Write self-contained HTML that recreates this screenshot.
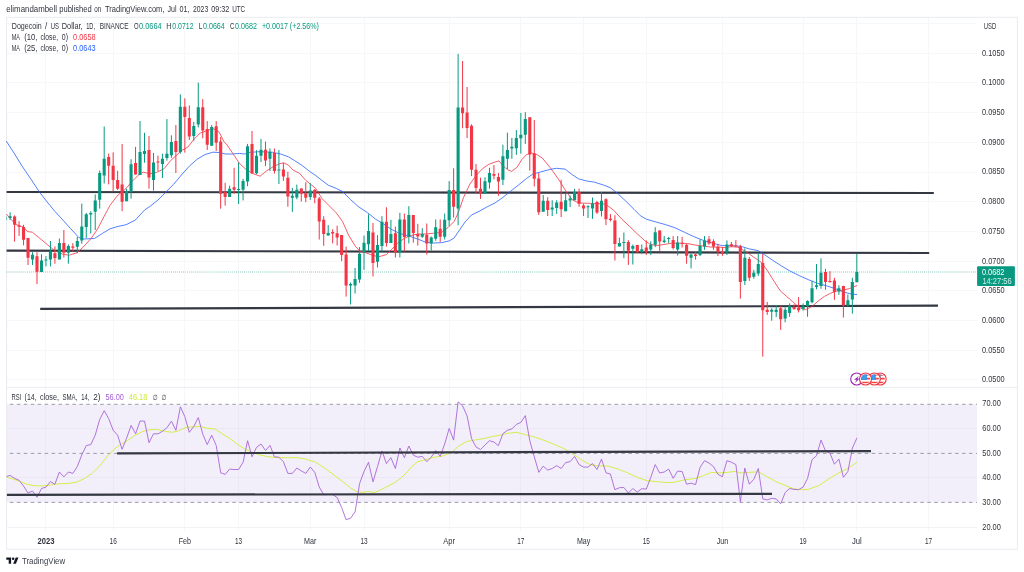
<!DOCTYPE html>
<html lang="en"><head><meta charset="utf-8"><title>Dogecoin / US Dollar chart</title>
<style>html,body{margin:0;padding:0;background:#fff}body{width:1024px;height:572px;overflow:hidden}svg{display:block}text{font-family:"Liberation Sans", sans-serif}</style></head><body>
<svg width="1024" height="572" viewBox="0 0 1024 572">
<rect width="1024" height="572" fill="#fff"/>
<text x="6.2" y="11.7" font-size="8.30" fill="#30333d" textLength="50.8" lengthAdjust="spacingAndGlyphs">elimandambell</text>
<text x="59.2" y="11.7" font-size="8.30" fill="#30333d" textLength="32.5" lengthAdjust="spacingAndGlyphs">published</text>
<text x="94.2" y="11.7" font-size="8.30" fill="#30333d" textLength="7.0" lengthAdjust="spacingAndGlyphs">on</text>
<text x="105.0" y="11.7" font-size="8.30" fill="#30333d" textLength="59.5" lengthAdjust="spacingAndGlyphs">TradingView.com,</text>
<text x="167.5" y="11.7" font-size="8.30" fill="#30333d" textLength="9.0" lengthAdjust="spacingAndGlyphs">Jul</text>
<text x="179.5" y="11.7" font-size="8.30" fill="#30333d" textLength="10.0" lengthAdjust="spacingAndGlyphs">01,</text>
<text x="193.0" y="11.7" font-size="8.30" fill="#30333d" textLength="15.2" lengthAdjust="spacingAndGlyphs">2023</text>
<text x="211.2" y="11.7" font-size="8.30" fill="#30333d" textLength="18.0" lengthAdjust="spacingAndGlyphs">09:32</text>
<text x="232.2" y="11.7" font-size="8.30" fill="#30333d" textLength="13.0" lengthAdjust="spacingAndGlyphs">UTC</text>
<rect x="6.6" y="404.3" width="970.4" height="98.1" fill="#f2eefa"/>
<path d="M6.6 23.5H977.0M6.6 53.5H977.0M6.6 82.5H977.0M6.6 112.5H977.0M6.6 142.5H977.0M6.6 172.5H977.0M6.6 201.5H977.0M6.6 231.5H977.0M6.6 261.5H977.0M6.6 290.5H977.0M6.6 320.5H977.0M6.6 350.5H977.0M6.6 379.5H977.0M6.6 428.5H977.0M6.6 477.5H977.0M45.5 17.3V531.6M113.5 17.3V531.6M184.5 17.3V531.6M238.5 17.3V531.6M310.5 17.3V531.6M364.5 17.3V531.6M449.5 17.3V531.6M520.5 17.3V531.6M583.5 17.3V531.6M646.5 17.3V531.6M722.5 17.3V531.6M803.5 17.3V531.6M856.5 17.3V531.6M928.5 17.3V531.6" stroke="#f6f7f9" stroke-width="1" fill="none"/>
<path d="M6.6 428.5H977.0M6.6 477.5H977.0M45.5 404.3V502.4M113.5 404.3V502.4M184.5 404.3V502.4M238.5 404.3V502.4M310.5 404.3V502.4M364.5 404.3V502.4M449.5 404.3V502.4M520.5 404.3V502.4M583.5 404.3V502.4M646.5 404.3V502.4M722.5 404.3V502.4M803.5 404.3V502.4M856.5 404.3V502.4M928.5 404.3V502.4" stroke="#ebe7f4" stroke-width="1" fill="none"/>
<rect x="6.6" y="17.3" width="1010.8" height="532.0" fill="none" stroke="#e8ebf1" stroke-width="1"/>
<path d="M6.6 387.4H1017.4" stroke="#e8ebf1" stroke-width="1" fill="none"/>
<path d="M6.6 527.5H977.0" stroke="#f1f2f6" stroke-width="1" fill="none"/>
<path d="M6.6 404.3H977.0" stroke="#9b9da8" stroke-width="1" stroke-dasharray="3.5 3.45" stroke-dashoffset="3.65" fill="none"/>
<path d="M6.6 453.4H977.0" stroke="#9b9da8" stroke-width="1" stroke-dasharray="3.5 3.45" stroke-dashoffset="3.65" fill="none"/>
<path d="M6.6 502.4H977.0" stroke="#9b9da8" stroke-width="1" stroke-dasharray="3.5 3.45" stroke-dashoffset="3.65" fill="none"/>
<path d="M6.6 272H977.0" stroke="#089981" stroke-width="1" stroke-dasharray="0.8 1.23" stroke-opacity="0.6" fill="none"/>
<path d="M6.6 192.0L933.8 193.0" stroke="#343843" stroke-width="2.2" fill="none"/>
<path d="M6.6 250.6L929.2 253.0" stroke="#343843" stroke-width="2.2" fill="none"/>
<path d="M40.2 308.9L938.0 305.6" stroke="#343843" stroke-width="2.2" fill="none"/>
<path d="M6.5 141.4L14.0 153.0L22.0 166.0L31.5 180.0L39.3 191.8L47.2 202.0L55.0 211.5L63.0 220.1L70.8 228.8L78.7 237.4L83.4 239.0L94.4 238.5L102.3 233.5L110.0 228.8L118.0 226.4L125.9 224.8L135.3 220.1L144.7 209.9L150.0 206.4L157.9 200.1L165.7 192.2L173.6 184.3L181.5 174.9L189.3 166.2L197.2 159.2L205.1 154.5L212.9 152.2L219.2 152.5L225.5 154.0L231.8 154.0L239.7 153.4L244.4 154.0L250.7 152.3L260.1 151.7L272.7 152.3L280.6 154.0L288.4 156.8L294.7 160.7L301.0 164.7L310.0 171.7L315.0 175.0L322.0 180.5L328.3 185.2L336.2 188.4L342.5 191.5L350.3 199.4L358.2 206.5L367.7 212.8L375.5 219.1L383.4 223.8L391.3 229.3L399.1 233.2L410.1 236.4L418.0 239.2L425.9 242.3L433.7 243.0L441.6 242.7L449.5 240.8L454.2 237.9L460.0 229.3L465.0 222.0L471.5 215.0L479.3 211.2L487.2 206.8L495.1 202.9L502.9 197.4L510.8 191.1L518.7 184.8L526.5 178.5L532.8 174.1L540.7 171.9L550.1 169.4L556.4 168.3L565.1 169.1L572.2 174.6L578.5 178.8L586.3 180.9L594.2 182.1L603.4 185.0L610.5 187.8L618.3 194.1L626.2 201.5L634.1 209.4L640.3 215.7L646.6 219.3L656.1 222.0L665.5 224.6L675.0 227.8L684.4 232.2L693.8 236.6L703.3 240.4L712.7 243.2L722.2 245.6L731.6 245.6L741.0 246.3L748.9 248.8L758.3 250.7L764.6 254.7L772.5 260.2L780.3 265.2L789.8 270.9L799.2 275.6L808.7 279.8L818.1 283.5L827.5 286.1L837.0 289.3L844.9 292.4L851.1 294.0L856.7 294.5" stroke="#2962ff" stroke-width="1.00" fill="none" stroke-linejoin="round" stroke-linecap="round" stroke-opacity="0.8"/>
<path d="M6.6 214.3L11.0 219.3L15.7 224.4L23.6 227.2L27.5 231.6L32.3 232.2L39.3 237.9L47.2 244.5L55.0 250.8L63.0 254.3L69.2 255.2L77.1 252.7L83.4 246.9L91.3 238.2L97.5 229.1L103.8 217.0L110.1 205.2L118.0 195.0L125.9 188.7L132.2 181.2L138.5 175.2L143.2 172.1L149.5 173.7L156.3 172.5L164.2 168.6L170.5 160.7L176.0 155.7L181.5 150.7L187.8 147.1L194.1 139.2L200.3 132.9L205.1 131.4L212.9 128.5L219.2 132.1L223.9 141.6L227.1 145.0L233.4 154.4L239.7 163.6L246.0 169.4L252.3 173.3L260.1 176.2L266.4 171.0L272.7 167.0L279.0 163.9L283.7 162.8L288.4 165.1L293.2 170.2L299.5 173.3L305.8 180.4L315.7 188.4L322.0 198.6L328.3 204.9L336.2 212.8L342.5 221.4L348.8 235.6L355.1 245.8L359.8 251.3L366.1 252.9L372.4 255.2L378.7 256.8L386.5 254.5L391.3 249.7L397.5 243.4L403.8 238.7L410.1 235.6L418.0 234.0L425.9 234.0L433.7 233.2L441.6 232.4L447.9 227.7L454.2 221.4L458.1 213.1L463.6 197.4L469.9 184.0L476.2 175.3L482.5 168.7L488.8 164.3L495.1 162.0L499.0 160.9L502.9 165.6L507.7 169.8L511.6 171.4L517.1 167.2L521.8 159.6L526.5 154.6L531.3 153.0L536.0 154.1L542.3 158.0L550.1 167.5L558.0 178.5L565.9 191.1L572.2 199.7L578.5 202.9L584.7 203.2L592.6 203.4L597.9 203.6L605.7 204.2L613.6 210.2L621.5 218.8L629.3 226.2L637.2 233.8L645.1 240.9L649.8 244.0L656.1 245.6L664.0 244.5L671.8 243.2L679.7 243.2L687.5 243.5L695.4 245.1L703.3 246.0L711.1 247.1L719.0 247.1L725.3 247.6L731.6 246.7L737.9 247.2L745.7 251.5L753.6 257.0L761.5 262.5L767.8 271.2L774.1 281.4L780.3 290.9L786.6 296.4L792.9 301.9L799.2 307.4L805.5 309.7L811.8 306.6L818.1 301.1L824.4 296.4L830.7 293.2L837.0 290.9L843.3 290.1L849.6 288.5L856.7 285.7" stroke="#f23645" stroke-width="1.00" fill="none" stroke-linejoin="round" stroke-linecap="round" stroke-opacity="0.8"/>
<path d="M10.11 212.3V220.0M32.51 252.2V265.0M41.47 254.2V272.1M45.95 256.2V266.4M50.43 241.0V266.4M59.39 238.5V259.4M68.35 244.4V263.7M77.31 237.0V253.2M81.79 203.6V243.7M86.27 213.0V237.9M90.75 211.2V233.5M95.23 194.5V230.0M99.71 170.5V208.6M104.19 126.5V183.4M126.59 188.7V201.2M131.07 159.2V198.6M140.03 121.0V174.9M144.51 132.8V162.7M153.47 152.9V190.6M162.43 153.7V178.0M166.91 119.1V160.7M171.39 135.3V157.9M180.35 94.4V153.7M193.79 121.9V140.8M198.27 82.6V127.4M211.71 125.1V145.8M229.63 185.6V196.9M238.59 162.6V204.0M243.07 178.8V200.4M247.55 143.9V186.2M256.51 150.2V174.1M260.99 138.9V162.0M269.95 148.4V171.0M278.91 150.0V184.0M292.35 187.8V211.9M296.83 184.6V199.3M310.27 183.2V199.9M328.19 225.0V235.6M350.59 282.5V304.5M355.07 268.0V293.5M359.55 247.1V282.8M364.03 235.6V269.9M368.51 214.3V251.0M377.47 235.1V267.5M381.95 216.2V251.4M390.91 219.8V243.0M399.87 212.8V257.5M408.83 206.2V243.4M422.27 228.2V237.9M431.23 236.4V250.6M435.71 219.4V240.8M444.67 213.5V239.5M449.15 181.1V226.1M458.11 53.9V225.3M484.99 177.2V193.9M489.47 167.8V188.7M502.91 144.7V185.1M507.39 132.6V169.0M511.87 137.9V158.8M516.35 130.1V154.9M520.83 112.9V153.6M525.31 112.1V143.9M543.23 195.0V211.8M552.19 200.2V216.0M556.67 200.2V213.9M565.63 193.4V211.2M570.11 195.5V207.1M574.59 188.7V200.2M588.03 205.2V218.0M592.51 197.5V218.8M601.47 192.1V216.5M619.39 237.7V246.4M623.87 232.5V258.2M632.83 244.5V264.5M641.79 244.5V254.2M650.75 241.3V255.0M655.23 227.2V247.1M664.19 236.1V243.2M668.67 236.9V242.9M677.63 236.1V255.5M691.07 254.2V268.4M700.03 239.3V256.1M704.51 236.1V249.8M726.91 240.4V255.0M744.83 248.4V285.0M753.79 269.9V278.7M758.27 253.1V275.9M771.71 308.2V320.7M776.19 305.0V317.1M785.15 307.4V322.3M789.63 303.4V316.8M803.07 303.4V310.8M807.55 300.3V316.8M812.03 280.9V303.4M816.51 264.1V289.3M820.99 258.3V288.8M838.91 285.3V294.8M847.87 294.5V306.6M852.35 277.8V313.7M856.83 253.9V282.2" stroke="#089981" stroke-width="1" fill="none"/>
<path d="M14.59 215.4V241.7M19.07 221.2V235.9M23.55 224.8V245.3M28.03 237.9V265.0M36.99 252.2V284.1M54.91 246.4V263.7M63.87 230.0V257.6M72.83 243.1V251.6M108.67 153.5V184.4M113.15 152.4V191.3M117.63 170.8V190.0M122.11 144.1V211.2M135.55 146.9V174.5M148.99 135.9V188.7M157.95 155.7V171.0M175.87 125.1V173.0M184.83 98.3V152.6M189.31 105.4V140.0M202.75 99.1V138.4M207.23 121.1V150.0M216.19 121.1V151.0M220.67 136.9V208.7M225.15 182.8V205.6M234.11 167.8V193.8M252.03 131.0V174.1M265.47 141.6V166.2M274.43 148.5V173.6M283.39 163.1V180.9M287.87 171.7V206.7M301.31 188.3V201.5M305.79 182.2V202.2M314.75 189.0V203.3M319.23 197.0V239.5M323.71 216.2V245.8M332.67 229.3V243.4M337.15 225.7V245.5M341.63 235.1V261.2M346.11 246.6V296.6M372.99 223.0V276.5M386.43 207.3V246.6M395.39 226.6V257.5M404.35 213.5V251.5M413.31 215.1V242.7M417.79 223.8V245.5M426.75 223.5V254.5M440.19 219.4V241.9M453.63 168.3V217.5M462.59 61.0V128.3M467.07 87.0V138.0M471.55 124.3V176.1M476.03 164.0V193.4M480.51 177.7V198.9M493.95 165.1V179.3M498.43 173.0V195.8M529.79 117.3V170.6M534.27 120.0V186.4M538.75 173.0V215.0M547.71 197.1V216.0M561.15 179.8V217.0M579.07 188.7V206.8M583.55 203.7V216.0M596.99 200.8V214.0M605.95 198.4V225.1M610.43 214.1V221.5M614.91 215.2V260.5M628.35 240.1V264.9M637.31 244.8V253.4M646.27 240.4V255.0M659.71 230.3V251.1M673.15 236.1V249.5M682.11 236.9V247.6M686.59 244.0V263.7M695.55 251.9V259.7M708.99 236.1V244.8M713.47 239.3V249.8M717.95 244.0V256.1M722.43 247.1V255.8M731.39 242.0V247.1M735.87 240.1V247.1M740.35 244.8V298.7M749.31 257.0V280.9M762.75 253.9V356.6M767.23 301.9V314.9M780.67 306.1V329.9M794.11 304.2V309.3M798.59 297.1V312.4M825.47 268.8V289.8M829.95 271.2V282.2M834.43 277.8V299.8M843.39 285.7V317.6" stroke="#f23645" stroke-width="1" fill="none"/>
<path d="M8.56 216.2h3.1V218.0h-3.1zM30.96 254.7h3.1V259.4h-3.1zM39.92 260.4h3.1V272.1h-3.1zM44.40 259.4h3.1V260.6h-3.1zM48.88 251.9h3.1V259.4h-3.1zM57.84 242.9h3.1V259.4h-3.1zM66.80 246.1h3.1V252.7h-3.1zM75.76 241.0h3.1V246.7h-3.1zM80.24 226.6h3.1V240.5h-3.1zM84.72 214.3h3.1V226.9h-3.1zM89.20 213.0h3.1V214.6h-3.1zM93.68 200.5h3.1V211.8h-3.1zM98.16 172.9h3.1V199.7h-3.1zM102.64 158.7h3.1V175.6h-3.1zM125.04 191.0h3.1V201.2h-3.1zM129.52 164.2h3.1V191.8h-3.1zM138.48 152.0h3.1V174.9h-3.1zM142.96 150.9h3.1V154.0h-3.1zM151.92 162.6h3.1V179.9h-3.1zM160.88 158.8h3.1V163.9h-3.1zM165.36 153.7h3.1V157.9h-3.1zM169.84 142.1h3.1V155.2h-3.1zM178.80 106.7h3.1V152.1h-3.1zM192.24 125.9h3.1V136.1h-3.1zM196.72 107.3h3.1V124.6h-3.1zM210.16 127.0h3.1V145.8h-3.1zM228.08 188.7h3.1V196.9h-3.1zM237.04 189.0h3.1V190.0h-3.1zM241.52 180.9h3.1V189.8h-3.1zM246.00 146.3h3.1V181.5h-3.1zM254.96 155.7h3.1V173.3h-3.1zM259.44 149.8h3.1V155.7h-3.1zM268.40 151.7h3.1V158.8h-3.1zM277.36 169.4h3.1V170.4h-3.1zM290.80 195.7h3.1V197.7h-3.1zM295.28 189.8h3.1V197.4h-3.1zM308.72 190.4h3.1V197.0h-3.1zM326.64 232.9h3.1V235.6h-3.1zM349.04 284.0h3.1V285.6h-3.1zM353.52 279.0h3.1V285.6h-3.1zM358.00 253.8h3.1V279.6h-3.1zM362.48 242.7h3.1V252.2h-3.1zM366.96 230.9h3.1V244.2h-3.1zM375.92 245.0h3.1V261.7h-3.1zM380.40 221.7h3.1V246.1h-3.1zM389.36 234.0h3.1V243.0h-3.1zM398.32 219.4h3.1V252.4h-3.1zM407.28 215.1h3.1V236.7h-3.1zM420.72 234.0h3.1V236.7h-3.1zM429.68 237.6h3.1V243.4h-3.1zM434.16 227.2h3.1V238.7h-3.1zM443.12 219.8h3.1V236.7h-3.1zM447.60 189.9h3.1V220.3h-3.1zM456.56 107.4h3.1V208.4h-3.1zM483.44 181.3h3.1V193.9h-3.1zM487.92 173.0h3.1V182.4h-3.1zM501.36 156.2h3.1V179.8h-3.1zM505.84 149.9h3.1V158.8h-3.1zM510.32 146.7h3.1V148.6h-3.1zM514.80 137.9h3.1V148.3h-3.1zM519.28 134.8h3.1V138.3h-3.1zM523.76 118.9h3.1V134.8h-3.1zM541.68 200.8h3.1V211.8h-3.1zM550.64 207.6h3.1V209.6h-3.1zM555.12 202.4h3.1V208.1h-3.1zM564.08 200.2h3.1V211.2h-3.1zM568.56 198.6h3.1V200.5h-3.1zM573.04 191.9h3.1V200.2h-3.1zM586.48 206.3h3.1V207.3h-3.1zM590.96 203.6h3.1V208.6h-3.1zM599.92 200.7h3.1V211.0h-3.1zM617.84 242.9h3.1V246.4h-3.1zM622.32 241.9h3.1V242.9h-3.1zM631.28 246.0h3.1V248.7h-3.1zM640.24 249.2h3.1V251.9h-3.1zM649.20 244.8h3.1V249.5h-3.1zM653.68 232.2h3.1V244.8h-3.1zM662.64 240.4h3.1V242.0h-3.1zM667.12 238.0h3.1V239.0h-3.1zM676.08 242.4h3.1V249.5h-3.1zM689.52 254.5h3.1V257.7h-3.1zM698.48 246.0h3.1V255.0h-3.1zM702.96 240.4h3.1V246.4h-3.1zM725.36 244.5h3.1V252.3h-3.1zM743.28 257.8h3.1V280.9h-3.1zM752.24 272.8h3.1V276.7h-3.1zM756.72 264.1h3.1V273.5h-3.1zM770.16 309.7h3.1V311.8h-3.1zM774.64 309.7h3.1V312.1h-3.1zM783.60 309.7h3.1V318.4h-3.1zM788.08 306.1h3.1V312.9h-3.1zM801.52 306.6h3.1V308.9h-3.1zM806.00 301.1h3.1V306.1h-3.1zM810.48 288.2h3.1V302.3h-3.1zM814.96 285.3h3.1V286.9h-3.1zM819.44 272.8h3.1V286.1h-3.1zM837.36 288.2h3.1V291.6h-3.1zM846.32 300.3h3.1V305.5h-3.1zM850.80 281.9h3.1V299.5h-3.1zM855.28 272.0h3.1V282.2h-3.1z" fill="#089981"/>
<rect x="6.2" y="216.6" width="0.9" height="3.6" fill="#089981" opacity="0.6"/>
<path d="M13.04 216.5h3.1V224.8h-3.1zM17.52 225.6h3.1V226.7h-3.1zM22.00 226.9h3.1V239.8h-3.1zM26.48 237.9h3.1V257.8h-3.1zM35.44 256.2h3.1V271.8h-3.1zM53.36 253.2h3.1V258.1h-3.1zM62.32 243.1h3.1V252.7h-3.1zM71.28 246.4h3.1V247.8h-3.1zM107.12 157.1h3.1V165.8h-3.1zM111.60 165.8h3.1V180.0h-3.1zM116.08 180.0h3.1V188.7h-3.1zM120.56 184.4h3.1V201.7h-3.1zM134.00 163.0h3.1V174.5h-3.1zM147.44 150.1h3.1V177.6h-3.1zM156.40 161.5h3.1V162.5h-3.1zM174.32 141.1h3.1V152.1h-3.1zM183.28 106.7h3.1V116.9h-3.1zM187.76 118.0h3.1V136.4h-3.1zM201.20 107.3h3.1V130.6h-3.1zM205.68 129.0h3.1V144.7h-3.1zM214.64 126.3h3.1V142.7h-3.1zM219.12 141.6h3.1V193.8h-3.1zM223.60 191.9h3.1V196.9h-3.1zM232.56 187.2h3.1V189.8h-3.1zM250.48 143.9h3.1V173.3h-3.1zM263.92 149.8h3.1V160.4h-3.1zM272.88 153.0h3.1V171.0h-3.1zM281.84 169.4h3.1V176.5h-3.1zM286.32 177.7h3.1V196.6h-3.1zM299.76 188.5h3.1V193.8h-3.1zM304.24 193.3h3.1V197.8h-3.1zM313.20 189.9h3.1V197.8h-3.1zM317.68 198.6h3.1V221.4h-3.1zM322.16 219.8h3.1V234.0h-3.1zM331.12 232.0h3.1V233.5h-3.1zM335.60 233.2h3.1V237.6h-3.1zM340.08 235.1h3.1V254.9h-3.1zM344.56 254.5h3.1V285.6h-3.1zM371.44 232.4h3.1V263.0h-3.1zM384.88 221.7h3.1V243.0h-3.1zM393.84 233.2h3.1V252.4h-3.1zM402.80 219.4h3.1V237.1h-3.1zM411.76 215.1h3.1V232.9h-3.1zM416.24 234.0h3.1V236.4h-3.1zM425.20 234.8h3.1V243.4h-3.1zM438.64 228.8h3.1V236.7h-3.1zM452.08 189.9h3.1V206.7h-3.1zM461.04 107.4h3.1V113.2h-3.1zM465.52 112.6h3.1V127.9h-3.1zM470.00 125.8h3.1V169.8h-3.1zM474.48 169.8h3.1V187.9h-3.1zM478.96 188.7h3.1V193.9h-3.1zM492.40 174.1h3.1V175.7h-3.1zM496.88 176.9h3.1V181.6h-3.1zM528.24 117.3h3.1V154.6h-3.1zM532.72 153.6h3.1V178.8h-3.1zM537.20 178.5h3.1V212.3h-3.1zM546.16 200.8h3.1V210.0h-3.1zM559.60 201.8h3.1V209.2h-3.1zM577.52 191.9h3.1V203.7h-3.1zM582.00 205.6h3.1V208.4h-3.1zM595.44 202.0h3.1V212.6h-3.1zM604.40 199.2h3.1V219.3h-3.1zM608.88 218.8h3.1V219.9h-3.1zM613.36 220.4h3.1V244.0h-3.1zM626.80 242.0h3.1V250.8h-3.1zM635.76 245.1h3.1V252.3h-3.1zM644.72 247.6h3.1V251.9h-3.1zM658.16 230.6h3.1V241.6h-3.1zM671.60 240.1h3.1V247.9h-3.1zM680.56 242.7h3.1V243.7h-3.1zM685.04 244.8h3.1V255.8h-3.1zM694.00 254.5h3.1V256.1h-3.1zM707.44 239.3h3.1V243.5h-3.1zM711.92 241.3h3.1V246.4h-3.1zM716.40 246.7h3.1V251.9h-3.1zM720.88 251.9h3.1V253.9h-3.1zM729.84 244.2h3.1V246.2h-3.1zM734.32 245.5h3.1V246.5h-3.1zM738.80 246.4h3.1V281.9h-3.1zM747.76 258.9h3.1V277.8h-3.1zM761.20 263.0h3.1V310.2h-3.1zM765.68 309.7h3.1V312.1h-3.1zM779.12 308.2h3.1V319.2h-3.1zM792.56 307.1h3.1V309.3h-3.1zM797.04 307.7h3.1V310.2h-3.1zM823.92 272.0h3.1V281.9h-3.1zM828.40 280.9h3.1V282.2h-3.1zM832.88 280.6h3.1V292.0h-3.1zM841.84 286.1h3.1V305.5h-3.1z" fill="#f23645"/>
<path d="M6.9 477.3L13.7 479.3L19.6 481.2L25.5 483.8L33.3 485.6L41.1 486.0L49.0 485.2L58.8 483.8L68.6 483.4L76.4 482.2L84.2 478.7L92.1 473.4L99.9 465.6L107.7 455.8L113.6 449.9L119.5 445.0L127.3 440.7L135.2 435.2L143.0 431.3L150.8 429.7L156.7 429.3L164.5 431.3L172.4 432.3L178.3 430.9L186.1 427.4L193.9 426.8L200.0 426.4L207.8 428.4L214.7 428.9L221.5 433.3L229.4 438.2L237.2 444.0L245.1 449.3L252.9 452.5L260.7 455.2L268.6 456.8L278.4 457.7L288.1 457.7L297.9 457.7L305.8 459.1L315.6 462.2L325.4 468.5L335.2 476.0L343.0 481.8L350.8 488.1L356.7 491.6L362.6 492.4L368.5 491.4L374.3 492.6L380.2 490.1L386.1 487.1L393.9 483.2L400.0 478.7L405.9 473.4L411.8 466.6L417.6 461.7L425.5 459.7L433.3 457.4L443.1 455.8L450.9 452.8L458.8 446.0L466.6 441.5L474.4 440.1L484.2 438.5L492.1 436.6L499.9 435.2L507.7 433.3L516.6 432.3L525.4 434.6L535.2 437.2L545.0 440.7L554.8 444.6L564.5 448.9L574.3 454.8L582.2 460.3L590.0 464.6L597.8 466.0L607.8 466.0L617.6 468.9L627.4 472.8L637.2 477.3L647.0 480.7L656.8 481.6L666.6 482.6L674.4 482.2L684.2 479.9L696.0 478.3L703.8 475.4L711.7 472.4L719.5 473.0L727.3 472.4L735.2 471.3L741.0 473.0L748.9 472.4L758.7 471.8L766.5 476.4L776.3 481.8L786.1 485.8L792.9 488.5L798.8 489.7L807.6 489.5L818.4 485.8L828.1 479.3L837.9 473.4L847.7 468.5L856.9 462.3" stroke="#d6ee4a" stroke-width="1.00" fill="none" stroke-linejoin="round" stroke-linecap="round"/>
<path d="M6.9 476.4L10.1 475.4L14.6 478.3L19.1 480.3L23.6 486.1L28.0 493.0L32.5 491.0L37.0 497.3L41.5 488.5L46.0 487.1L50.4 481.6L54.9 484.2L59.4 472.0L63.9 476.9L68.4 472.0L72.8 473.4L77.3 466.6L81.8 454.8L86.3 445.6L90.8 444.6L95.2 435.2L99.7 419.5L104.2 410.7L108.7 418.6L113.2 430.3L117.6 435.2L122.1 449.3L126.6 438.2L131.1 425.4L135.6 433.8L140.0 421.1L144.5 421.1L149.0 442.7L153.5 433.8L158.0 433.8L162.4 431.3L166.9 427.8L171.4 421.1L175.9 430.3L180.4 406.8L184.8 416.6L189.3 432.3L193.8 426.4L198.3 417.6L202.8 434.2L207.2 444.6L211.7 435.2L216.2 445.4L220.7 472.8L225.2 474.4L229.6 469.1L234.1 469.5L238.6 469.5L243.1 462.3L247.6 440.7L252.0 456.8L256.5 447.4L261.0 444.0L265.5 450.5L270.0 445.4L274.4 456.8L278.9 457.2L283.4 461.7L287.9 473.4L292.4 473.4L296.8 468.1L301.3 470.9L305.8 473.4L310.3 467.0L314.8 472.4L319.2 486.9L323.7 494.7L328.2 494.5L332.7 494.5L337.2 497.6L341.6 507.4L346.1 519.7L350.6 518.2L355.1 511.8L359.6 483.5L364.0 471.5L368.5 462.3L373.0 481.8L377.5 466.6L382.0 450.9L386.4 463.6L390.9 457.7L395.4 468.5L399.9 448.0L404.4 457.7L408.8 446.0L413.3 455.2L417.8 457.2L422.3 456.4L426.8 461.7L431.2 457.2L435.7 450.5L440.2 456.4L444.7 444.0L449.2 428.4L453.6 440.1L458.1 401.9L462.6 405.8L467.1 416.0L471.6 438.7L476.0 447.0L480.5 449.5L485.0 445.0L489.5 440.7L494.0 442.1L498.4 445.6L502.9 433.7L507.4 430.3L511.9 428.9L516.4 424.4L520.8 422.5L525.3 415.6L529.8 440.7L534.3 456.8L538.8 472.4L543.2 466.2L547.7 470.1L552.2 468.5L556.7 465.6L561.2 468.5L565.6 462.6L570.1 461.7L574.6 456.4L579.1 464.6L583.6 467.1L588.0 467.1L592.5 463.6L597.0 469.5L601.5 459.1L606.0 472.8L610.4 474.0L614.9 489.7L619.4 487.7L623.9 487.5L628.4 493.0L632.8 488.5L637.3 492.0L641.8 488.7L646.3 489.1L650.8 477.3L655.2 464.6L659.7 473.0L664.2 472.0L668.7 469.1L673.2 478.3L677.6 471.1L682.1 471.5L686.6 484.2L691.1 483.2L695.6 484.6L700.0 467.5L704.5 460.7L709.0 463.0L713.5 466.6L718.0 474.4L722.4 476.7L726.9 460.7L731.4 462.2L735.9 464.6L740.4 501.8L744.8 468.1L749.3 484.2L753.8 479.3L758.3 468.5L762.8 498.9L767.2 499.9L771.7 498.3L776.2 498.9L780.7 503.8L785.2 492.5L789.6 488.5L794.1 489.4L798.6 489.6L803.1 487.1L807.6 478.3L812.0 459.7L816.5 455.8L821.0 440.1L825.5 450.9L830.0 453.2L834.4 464.2L838.9 459.1L843.4 477.3L847.9 471.5L852.4 448.0L856.8 438.2" stroke="#a45fd4" stroke-width="1.00" fill="none" stroke-linejoin="round" stroke-linecap="round" stroke-opacity="0.85"/>
<path d="M117.1 453.4L871.0 451.1" stroke="#343843" stroke-width="2.2" fill="none"/>
<path d="M6.9 494.8L772.0 493.8" stroke="#343843" stroke-width="2.2" fill="none"/>
<text x="983.8" y="28.8" font-size="8.40" fill="#30333d" textLength="12.4" lengthAdjust="spacingAndGlyphs">USD</text>
<text x="982.0" y="55.7" font-size="8.40" fill="#30333d" textLength="22.6" lengthAdjust="spacingAndGlyphs">0.1050</text>
<text x="982.0" y="85.4" font-size="8.40" fill="#30333d" textLength="22.6" lengthAdjust="spacingAndGlyphs">0.1000</text>
<text x="982.0" y="115.0" font-size="8.40" fill="#30333d" textLength="22.6" lengthAdjust="spacingAndGlyphs">0.0950</text>
<text x="982.0" y="144.8" font-size="8.40" fill="#30333d" textLength="22.6" lengthAdjust="spacingAndGlyphs">0.0900</text>
<text x="982.0" y="174.4" font-size="8.40" fill="#30333d" textLength="22.6" lengthAdjust="spacingAndGlyphs">0.0850</text>
<text x="982.0" y="204.1" font-size="8.40" fill="#30333d" textLength="22.6" lengthAdjust="spacingAndGlyphs">0.0800</text>
<text x="982.0" y="233.8" font-size="8.40" fill="#30333d" textLength="22.6" lengthAdjust="spacingAndGlyphs">0.0750</text>
<text x="982.0" y="263.6" font-size="8.40" fill="#30333d" textLength="22.6" lengthAdjust="spacingAndGlyphs">0.0700</text>
<text x="982.0" y="293.2" font-size="8.40" fill="#30333d" textLength="22.6" lengthAdjust="spacingAndGlyphs">0.0650</text>
<text x="982.0" y="322.9" font-size="8.40" fill="#30333d" textLength="22.6" lengthAdjust="spacingAndGlyphs">0.0600</text>
<text x="982.0" y="352.6" font-size="8.40" fill="#30333d" textLength="22.6" lengthAdjust="spacingAndGlyphs">0.0550</text>
<text x="982.0" y="382.3" font-size="8.40" fill="#30333d" textLength="22.6" lengthAdjust="spacingAndGlyphs">0.0500</text>
<text x="982.3" y="405.9" font-size="8.40" fill="#30333d" textLength="18.6" lengthAdjust="spacingAndGlyphs">70.00</text>
<text x="982.3" y="430.7" font-size="8.40" fill="#30333d" textLength="18.6" lengthAdjust="spacingAndGlyphs">60.00</text>
<text x="982.3" y="455.6" font-size="8.40" fill="#30333d" textLength="18.6" lengthAdjust="spacingAndGlyphs">50.00</text>
<text x="982.3" y="480.4" font-size="8.40" fill="#30333d" textLength="18.6" lengthAdjust="spacingAndGlyphs">40.00</text>
<text x="982.3" y="505.1" font-size="8.40" fill="#30333d" textLength="18.6" lengthAdjust="spacingAndGlyphs">30.00</text>
<text x="982.3" y="529.7" font-size="8.40" fill="#30333d" textLength="18.6" lengthAdjust="spacingAndGlyphs">20.00</text>
<rect x="977.1" y="266.2" width="37.8" height="19.9" rx="1" fill="#089981"/>
<text x="982.0" y="274.7" font-size="8.40" fill="#fff" textLength="22.4" lengthAdjust="spacingAndGlyphs">0.0682</text>
<text x="982.4" y="283.7" font-size="8.40" fill="#d3efe9" textLength="29.3" lengthAdjust="spacingAndGlyphs">14:27:56</text>
<text x="37.5" y="543.5" font-size="8.40" fill="#30333d" textLength="17.0" lengthAdjust="spacingAndGlyphs" font-weight="bold">2023</text>
<text x="109.6" y="543.5" font-size="8.40" fill="#30333d" textLength="7.2" lengthAdjust="spacingAndGlyphs">16</text>
<text x="178.7" y="543.5" font-size="8.40" fill="#30333d" textLength="12.3" lengthAdjust="spacingAndGlyphs">Feb</text>
<text x="235.0" y="543.5" font-size="8.40" fill="#30333d" textLength="7.2" lengthAdjust="spacingAndGlyphs">13</text>
<text x="304.1" y="543.5" font-size="8.40" fill="#30333d" textLength="12.3" lengthAdjust="spacingAndGlyphs">Mar</text>
<text x="360.4" y="543.5" font-size="8.40" fill="#30333d" textLength="7.2" lengthAdjust="spacingAndGlyphs">13</text>
<text x="443.3" y="543.5" font-size="8.40" fill="#30333d" textLength="11.7" lengthAdjust="spacingAndGlyphs">Apr</text>
<text x="517.2" y="543.5" font-size="8.40" fill="#30333d" textLength="7.2" lengthAdjust="spacingAndGlyphs">17</text>
<text x="576.9" y="543.5" font-size="8.40" fill="#30333d" textLength="13.4" lengthAdjust="spacingAndGlyphs">May</text>
<text x="642.7" y="543.5" font-size="8.40" fill="#30333d" textLength="7.2" lengthAdjust="spacingAndGlyphs">15</text>
<text x="716.7" y="543.5" font-size="8.40" fill="#30333d" textLength="11.5" lengthAdjust="spacingAndGlyphs">Jun</text>
<text x="799.5" y="543.5" font-size="8.40" fill="#30333d" textLength="7.2" lengthAdjust="spacingAndGlyphs">19</text>
<text x="851.9" y="543.5" font-size="8.40" fill="#30333d" textLength="9.8" lengthAdjust="spacingAndGlyphs">Jul</text>
<text x="924.9" y="543.5" font-size="8.40" fill="#30333d" textLength="7.2" lengthAdjust="spacingAndGlyphs">17</text>
<text x="11.8" y="28.9" font-size="8.40" fill="#30333d" textLength="30.0" lengthAdjust="spacingAndGlyphs">Dogecoin</text>
<text x="45.0" y="28.9" font-size="8.40" fill="#30333d" textLength="2.2" lengthAdjust="spacingAndGlyphs">/</text>
<text x="50.8" y="28.9" font-size="8.40" fill="#30333d" textLength="8.2" lengthAdjust="spacingAndGlyphs">US</text>
<text x="61.8" y="28.9" font-size="8.40" fill="#30333d" textLength="20.8" lengthAdjust="spacingAndGlyphs">Dollar,</text>
<text x="86.2" y="28.9" font-size="8.40" fill="#30333d" textLength="8.8" lengthAdjust="spacingAndGlyphs">1D,</text>
<text x="99.8" y="28.9" font-size="8.40" fill="#30333d" textLength="28.8" lengthAdjust="spacingAndGlyphs">BINANCE</text>
<text x="133.9" y="28.9" font-size="8.40" fill="#30333d" textLength="4.6" lengthAdjust="spacingAndGlyphs">O</text>
<text x="139.0" y="28.9" font-size="8.40" fill="#089981" textLength="22.6" lengthAdjust="spacingAndGlyphs">0.0664</text>
<text x="166.3" y="28.9" font-size="8.40" fill="#30333d" textLength="5.2" lengthAdjust="spacingAndGlyphs">H</text>
<text x="172.3" y="28.9" font-size="8.40" fill="#089981" textLength="21.3" lengthAdjust="spacingAndGlyphs">0.0712</text>
<text x="198.8" y="28.9" font-size="8.40" fill="#30333d" textLength="3.6" lengthAdjust="spacingAndGlyphs">L</text>
<text x="203.0" y="28.9" font-size="8.40" fill="#089981" textLength="21.8" lengthAdjust="spacingAndGlyphs">0.0664</text>
<text x="230.0" y="28.9" font-size="8.40" fill="#30333d" textLength="4.5" lengthAdjust="spacingAndGlyphs">C</text>
<text x="235.0" y="28.9" font-size="8.40" fill="#089981" textLength="21.9" lengthAdjust="spacingAndGlyphs">0.0682</text>
<text x="261.9" y="28.9" font-size="8.40" fill="#089981" textLength="57.1" lengthAdjust="spacingAndGlyphs">+0.0017 (+2.56%)</text>
<text x="11.8" y="39.8" font-size="8.40" fill="#30333d" textLength="8.2" lengthAdjust="spacingAndGlyphs">MA</text>
<text x="24.2" y="39.8" font-size="8.40" fill="#30333d" textLength="13.2" lengthAdjust="spacingAndGlyphs">(10,</text>
<text x="40.5" y="39.8" font-size="8.40" fill="#30333d" textLength="17.5" lengthAdjust="spacingAndGlyphs">close,</text>
<text x="61.8" y="39.8" font-size="8.40" fill="#30333d" textLength="6.2" lengthAdjust="spacingAndGlyphs">0)</text>
<text x="73.1" y="39.8" font-size="8.40" fill="#f23645" textLength="22.5" lengthAdjust="spacingAndGlyphs">0.0658</text>
<text x="11.8" y="50.8" font-size="8.40" fill="#30333d" textLength="8.2" lengthAdjust="spacingAndGlyphs">MA</text>
<text x="24.2" y="50.8" font-size="8.40" fill="#30333d" textLength="13.2" lengthAdjust="spacingAndGlyphs">(25,</text>
<text x="40.5" y="50.8" font-size="8.40" fill="#30333d" textLength="17.5" lengthAdjust="spacingAndGlyphs">close,</text>
<text x="61.8" y="50.8" font-size="8.40" fill="#30333d" textLength="6.2" lengthAdjust="spacingAndGlyphs">0)</text>
<text x="73.1" y="50.8" font-size="8.40" fill="#2962ff" textLength="22.5" lengthAdjust="spacingAndGlyphs">0.0643</text>
<text x="11.6" y="399.7" font-size="8.40" fill="#30333d" textLength="9.8" lengthAdjust="spacingAndGlyphs">RSI</text>
<text x="24.6" y="399.7" font-size="8.40" fill="#30333d" textLength="12.0" lengthAdjust="spacingAndGlyphs">(14,</text>
<text x="40.1" y="399.7" font-size="8.40" fill="#30333d" textLength="18.8" lengthAdjust="spacingAndGlyphs">close,</text>
<text x="62.4" y="399.7" font-size="8.40" fill="#30333d" textLength="14.9" lengthAdjust="spacingAndGlyphs">SMA,</text>
<text x="81.2" y="399.7" font-size="8.40" fill="#30333d" textLength="8.1" lengthAdjust="spacingAndGlyphs">14,</text>
<text x="93.2" y="399.7" font-size="8.40" fill="#30333d" textLength="7.3" lengthAdjust="spacingAndGlyphs">2)</text>
<text x="105.5" y="399.7" font-size="8.40" fill="#a45fd4" textLength="18.4" lengthAdjust="spacingAndGlyphs">56.00</text>
<text x="128.8" y="399.7" font-size="8.40" fill="#d0ea3c" textLength="18.5" lengthAdjust="spacingAndGlyphs">46.18</text>
<text x="152.7" y="400.0" font-size="7.40" fill="#30333d" textLength="4.9" lengthAdjust="spacingAndGlyphs" style="font-family:'DejaVu Sans',sans-serif">∅</text>
<text x="161.5" y="400.0" font-size="7.40" fill="#30333d" textLength="4.9" lengthAdjust="spacingAndGlyphs" style="font-family:'DejaVu Sans',sans-serif">∅</text>
<circle cx="856.7" cy="379" r="6" fill="#fff" stroke="#9c27b0" stroke-width="1.1"/>
<path d="M858.9 375.7L854.1 379.7H856.5L855 383L859.5 378.6H857.2z" fill="#9c27b0"/>
<g transform="translate(880.2 379.0)"><circle r="6" fill="#fff" stroke="#f23645" stroke-width="1.1"/><clipPath id="fc3"><circle r="4.6"/></clipPath><g clip-path="url(#fc3)"><rect x="-5" y="-5" width="10" height="10" fill="#fff"/><path d="M-5 -4.2H5M-5 -0.3H5M-5 3.6H5" stroke="#f44336" stroke-width="1.7"/><rect x="-5" y="-5.4" width="5.4" height="6.3" fill="#2e8fe8"/><path d="M-2.6 -4v4M-0.6 -4v4" stroke="#fff" stroke-opacity="0.45" stroke-width="0.5"/></g></g>
<g transform="translate(874.3 379.0)"><circle r="6" fill="#fff" stroke="#f23645" stroke-width="1.1"/><clipPath id="fc2"><circle r="4.6"/></clipPath><g clip-path="url(#fc2)"><rect x="-5" y="-5" width="10" height="10" fill="#fff"/><path d="M-5 -4.2H5M-5 -0.3H5M-5 3.6H5" stroke="#f44336" stroke-width="1.7"/><rect x="-5" y="-5.4" width="6.4" height="6.3" fill="#2e8fe8"/><path d="M-2.6 -4v4M-0.6 -4v4" stroke="#fff" stroke-opacity="0.45" stroke-width="0.5"/></g></g>
<g transform="translate(865.5 379.0)"><circle r="6" fill="#fff" stroke="#f23645" stroke-width="1.1"/><clipPath id="fc1"><circle r="4.6"/></clipPath><g clip-path="url(#fc1)"><rect x="-5" y="-5" width="10" height="10" fill="#fff"/><path d="M-5 -4.2H5M-5 -0.3H5M-5 3.6H5" stroke="#f44336" stroke-width="1.7"/><rect x="-5" y="-5.4" width="6.4" height="6.3" fill="#2e8fe8"/><path d="M-2.6 -4v4M-0.6 -4v4" stroke="#fff" stroke-opacity="0.45" stroke-width="0.5"/></g></g>
<g transform="translate(6.3 557.4) scale(0.343)" fill="#131722"><path d="M14 18.4H7V7H0V0h14z"/><circle cx="20" cy="3.8" r="3.8"/><path d="M28 18.4h-8L27.5 0h8z"/></g>
<text x="21.9" y="563.5" font-size="8.80" fill="#3a3d48" textLength="43.3" lengthAdjust="spacingAndGlyphs">TradingView</text>
</svg></body></html>
